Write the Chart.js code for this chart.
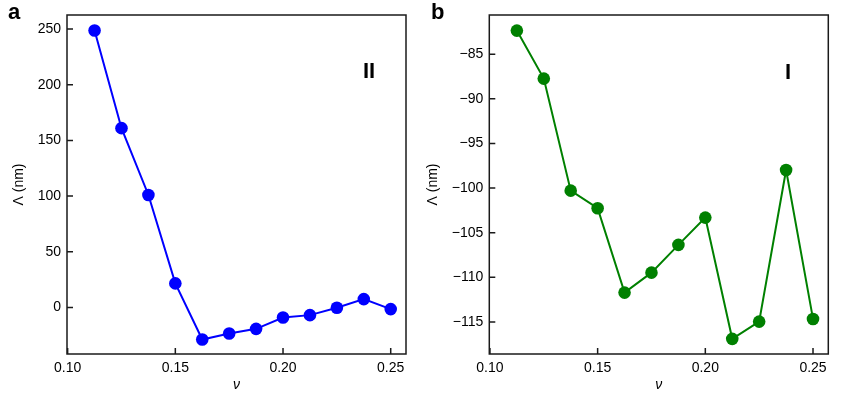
<!DOCTYPE html>
<html lang="en">
	<head>
		<meta charset="UTF-8" />
		<title>Lambda vs nu</title>
		<script src="https://cdn.jsdelivr.net/npm/chart.js"></script>
		<style>
			body {
				margin: 0;
				background: #fff;
				font-family: 'Liberation Sans', Arial, sans-serif;
			}
			.wrap {
				position: relative;
				width: 845px;
				height: 394px;
			}
			.panel {
				position: absolute;
				top: 0;
			}
			.tag {
				position: absolute;
				font-weight: bold;
				color: #000;
				line-height: 1;
			}
		</style>
	</head>
	<body>
		<div class="wrap">
			<canvas id="chartA" class="panel" style="left: 0px" width="420" height="394"></canvas>
			<canvas id="chartB" class="panel" style="left: 420px" width="425" height="394"></canvas>
			<div class="tag" style="left: 8px; top: 1px; font-size: 22px">a</div>
			<div class="tag" style="left: 431px; top: 1px; font-size: 22px">b</div>
			<div class="tag" style="left: 363px; top: 60px; font-size: 22px">II</div>
			<div class="tag" style="left: 785px; top: 61px; font-size: 22px">I</div>
		</div>

		<script>
			// data
			const nu = [0.1125, 0.125, 0.1375, 0.15, 0.1625, 0.175, 0.1875, 0.2, 0.2125, 0.225, 0.2375, 0.25];
			const lambdaII = [248.7, 161, 101, 21.6, -28.8, -23.4, -19.2, -9, -6.9, -0.3, 7.5, -1.5];
			const lambdaI = [-82.35, -87.73, -100.29, -102.26, -111.72, -109.48, -106.37, -103.31, -116.9, -114.97, -97.97, -114.67];

			const xTicks = [0.1, 0.15, 0.2, 0.25];
			const yTicksII = [0, 50, 100, 150, 200, 250];
			const yTicksI = [-115, -110, -105, -100, -95, -90, -85];

			const fontFamily = "'Liberation Sans', Arial, sans-serif";
			Chart.defaults.font.family = fontFamily;
			Chart.defaults.color = '#000';

			const fmt = (v, dec) => {
				const s = Math.abs(v).toFixed(dec);
				return v < 0 ? '\u2212' + s : s;
			};

			// frame + inward ticks like matplotlib
			const framePlugin = {
				id: 'frame',
				afterDraw(chart) {
					const { ctx, chartArea: a, scales } = chart;
					ctx.save();
					ctx.strokeStyle = '#1a1a1a';
					ctx.lineWidth = 1.5;
					ctx.strokeRect(a.left, a.top, a.right - a.left, a.bottom - a.top);
					ctx.beginPath();
					scales.x.ticks.forEach((t) => {
						const px = scales.x.getPixelForValue(t.value);
						ctx.moveTo(px, a.bottom);
						ctx.lineTo(px, a.bottom - 6);
					});
					scales.y.ticks.forEach((t) => {
						const py = scales.y.getPixelForValue(t.value);
						ctx.moveTo(a.left, py);
						ctx.lineTo(a.left + 6, py);
					});
					ctx.stroke();
					ctx.restore();
				},
			};

			function makeChart(id, yVals, color, yTicks, yMin, yMax, yWidth, pad, titlePad) {
				const points = nu.map((x, i) => ({ x: x, y: yVals[i] }));
				return new Chart(document.getElementById(id), {
					type: 'line',
					data: {
						datasets: [
							{
								data: points,
								borderColor: color,
								backgroundColor: color,
								borderWidth: 2,
								pointRadius: 6.3,
								pointBorderWidth: 0,
								tension: 0,
								clip: false,
							},
						],
					},
					options: {
						responsive: false,
						animation: false,
						layout: { padding: pad },
						plugins: {
							legend: { display: false },
							tooltip: { enabled: false },
						},
						scales: {
							x: {
								type: 'linear',
								min: 0.0997,
								max: 0.2571,
								afterBuildTicks: (s) => {
									s.ticks = xTicks.map((v) => ({ value: v }));
								},
								afterFit: (s) => {
									s.height = 40;
								},
								grid: { display: false, drawTicks: false },
								border: { display: false },
								ticks: {
									padding: 6,
									maxRotation: 0,
									font: { size: 14 },
									callback: (v) => fmt(v, 2),
								},
								title: {
									display: true,
									text: 'ν',
									font: { size: 14, style: 'italic' },
									padding: { top: 0, bottom: 0 },
								},
							},
							y: {
								min: yMin,
								max: yMax,
								afterBuildTicks: (s) => {
									s.ticks = yTicks.map((v) => ({ value: v }));
								},
								afterFit: (s) => {
									s.width = yWidth;
								},
								grid: { display: false, drawTicks: false },
								border: { display: false },
								ticks: {
									padding: 6,
									font: { size: 14 },
									callback: (v) => fmt(v, 0),
								},
								title: {
									display: true,
									text: 'Λ (nm)',
									font: { size: 14 },
									padding: titlePad,
								},
							},
						},
					},
					plugins: [framePlugin],
				});
			}

			makeChart('chartA', lambdaII, '#0000ff', yTicksII, -41.8, 262.6, 67,
				{ top: 15, right: 14, bottom: 0, left: 0 }, { top: 10.6, bottom: 0 });
			makeChart('chartB', lambdaI, '#008000', yTicksI, -118.6, -80.6, 69.3,
				{ top: 15, right: 16.7, bottom: 0, left: 0 }, { top: 4.9, bottom: 0 });
		</script>
	</body>
</html>
